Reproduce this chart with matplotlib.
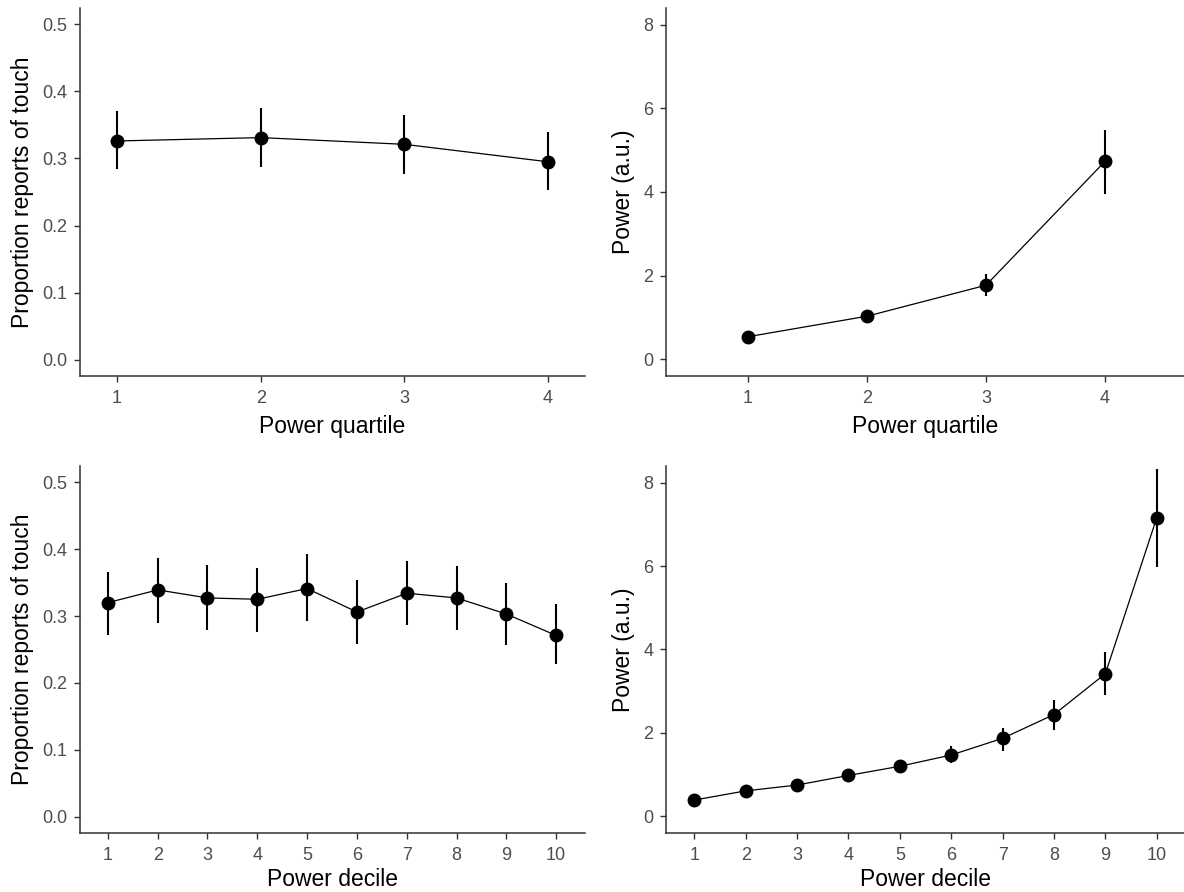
import matplotlib
matplotlib.use("Agg")
import matplotlib.pyplot as plt

plt.rcParams['font.family'] = ['Liberation Sans', 'DejaVu Sans']

# ---- data ----
quartiles = [1, 2, 3, 4]
deciles = [1, 2, 3, 4, 5, 6, 7, 8, 9, 10]

prop_quart = [0.326, 0.331, 0.321, 0.295]
prop_quart_lo = [0.284, 0.287, 0.277, 0.253]
prop_quart_hi = [0.370, 0.375, 0.365, 0.339]

pow_quart = [0.54, 1.03, 1.77, 4.73]
pow_quart_lo = [0.47, 0.95, 1.51, 3.96]
pow_quart_hi = [0.61, 1.11, 2.03, 5.48]

prop_dec = [0.320, 0.339, 0.327, 0.325, 0.341, 0.306, 0.334, 0.327, 0.303, 0.271]
prop_dec_lo = [0.272, 0.290, 0.279, 0.276, 0.293, 0.258, 0.286, 0.279, 0.256, 0.228]
prop_dec_hi = [0.366, 0.387, 0.376, 0.371, 0.392, 0.354, 0.382, 0.375, 0.350, 0.318]

pow_dec = [0.39, 0.61, 0.75, 0.98, 1.20, 1.47, 1.87, 2.44, 3.42, 7.16]
pow_dec_lo = [0.34, 0.55, 0.67, 0.88, 1.05, 1.27, 1.57, 2.06, 2.91, 5.98]
pow_dec_hi = [0.44, 0.67, 0.83, 1.08, 1.35, 1.68, 2.12, 2.79, 3.93, 8.34]

prop_ticks = [0.0, 0.1, 0.2, 0.3, 0.4, 0.5]
pow_ticks = [0, 2, 4, 6, 8]

W, H = 1184, 892
fig = plt.figure(figsize=(W / 100, H / 100), dpi=100)


def ax_at(left, right, top, bottom):
    return fig.add_axes([left / W, (H - bottom) / H, (right - left) / W, (bottom - top) / H])


def style(ax, xs, xlim, ylim, yticks, yfmt, xlabel, ylabel, xlabelpad=6):
    ax.set_xlim(*xlim)
    ax.set_ylim(*ylim)
    ax.set_xticks(xs)
    ax.set_xticklabels([str(x) for x in xs])
    ax.set_yticks(yticks)
    ax.set_yticklabels([yfmt.format(t) for t in yticks])
    for s in ['top', 'right']:
        ax.spines[s].set_visible(False)
    for s in ['left', 'bottom']:
        ax.spines[s].set_color('#333333')
        ax.spines[s].set_linewidth(1.1)
    ax.tick_params(axis='both', colors='#333333', labelcolor='#4D4D4D',
                   labelsize=13, length=4, width=1.0, pad=5)
    ax.tick_params(axis='x', pad=6)
    ax.set_xlabel(xlabel, fontsize=16.5, color='black', labelpad=xlabelpad)
    ax.set_ylabel(ylabel, fontsize=16.5, color='black', labelpad=6)


def draw(ax, xs, y, lo, hi):
    ax.vlines(xs, lo, hi, color='black', linewidth=1.5, zorder=2)
    ax.plot(xs, y, color='black', linewidth=0.9, zorder=2)
    ax.plot(xs, y, 'o', color='black', markersize=9, zorder=3)


ax1 = ax_at(80, 585, 8, 376)
draw(ax1, quartiles, prop_quart, prop_quart_lo, prop_quart_hi)
style(ax1, quartiles, (0.742, 4.257), (-0.024, 0.524), prop_ticks, '{:.1f}',
      'Power quartile', 'Proportion reports of touch')

ax2 = ax_at(666, 1184, 8, 376)
draw(ax2, quartiles, pow_quart, pow_quart_lo, pow_quart_hi)
style(ax2, quartiles, (0.31, 4.665), (-0.4, 8.4), pow_ticks, '{:d}',
      'Power quartile', 'Power (a.u.)')

ax3 = ax_at(80, 585, 466, 833)
draw(ax3, deciles, prop_dec, prop_dec_lo, prop_dec_hi)
style(ax3, deciles, (0.44, 10.58), (-0.024, 0.524), prop_ticks, '{:.1f}',
      'Power decile', 'Proportion reports of touch', xlabelpad=3)

ax4 = ax_at(666, 1184, 466, 833)
draw(ax4, deciles, pow_dec, pow_dec_lo, pow_dec_hi)
style(ax4, deciles, (0.45, 10.53), (-0.4, 8.4), pow_ticks, '{:d}',
      'Power decile', 'Power (a.u.)', xlabelpad=3)

fig.savefig('out.png', dpi=100)
